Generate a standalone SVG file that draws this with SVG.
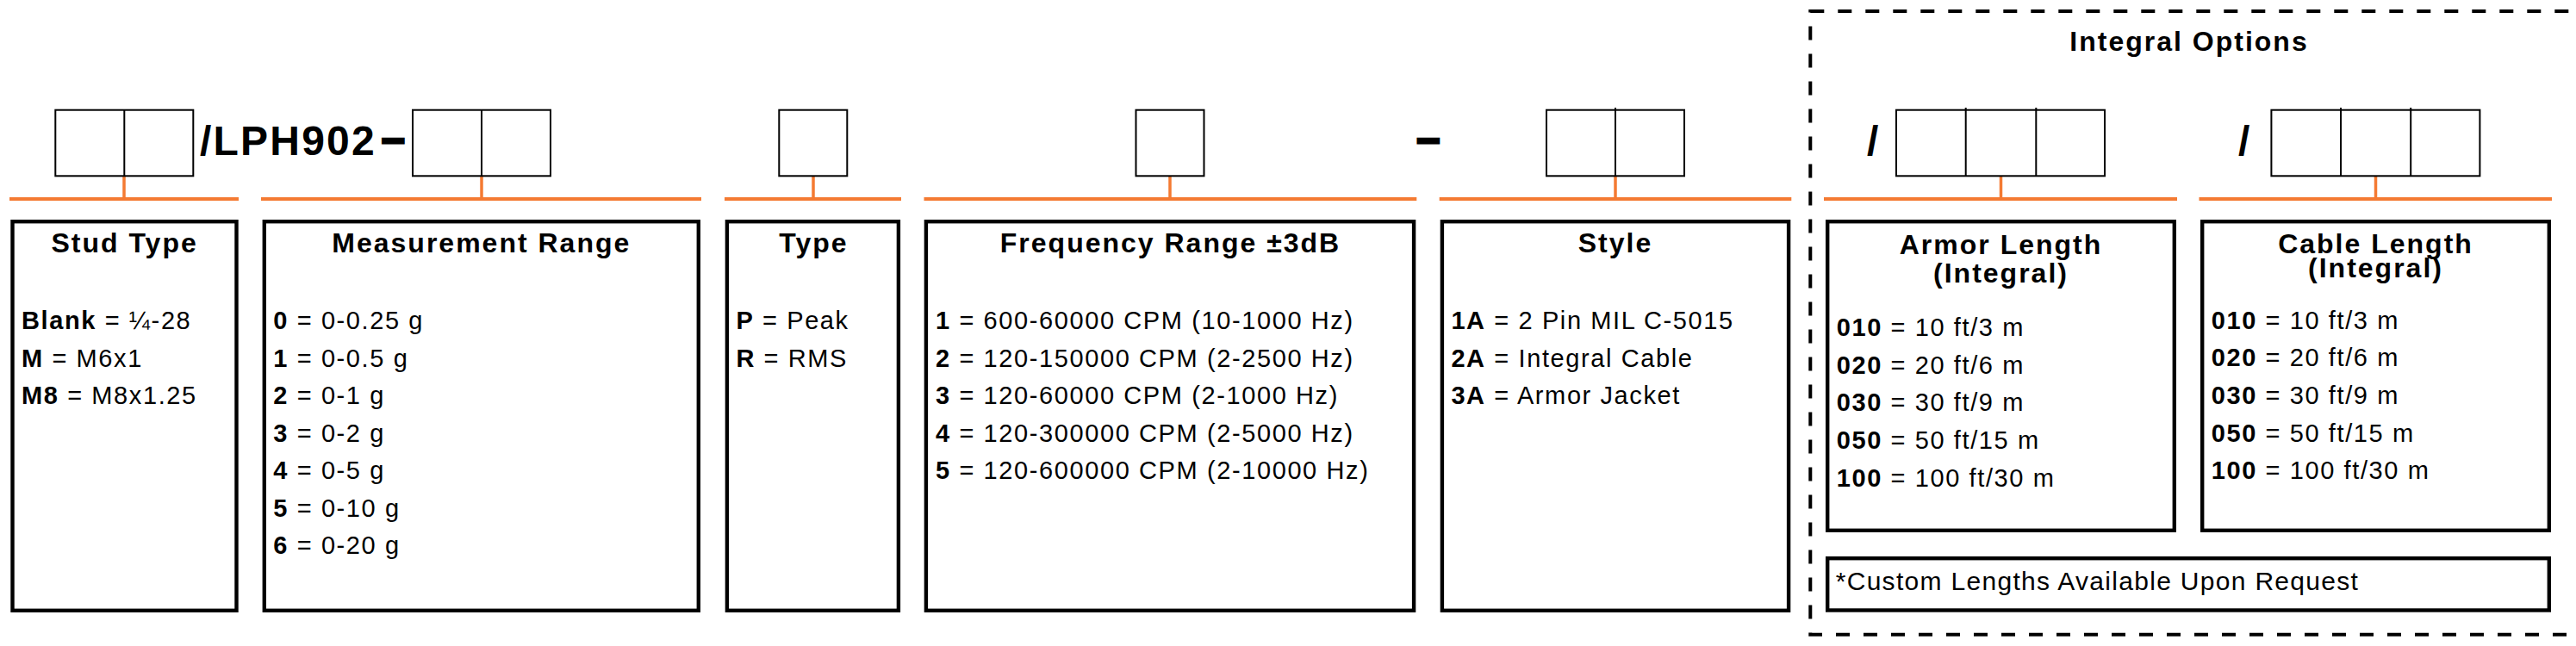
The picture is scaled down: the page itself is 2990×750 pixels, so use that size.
<svg xmlns="http://www.w3.org/2000/svg" width="2990" height="750" viewBox="0 0 2990 750">
<style>
text{font-family:"Liberation Sans",Arial,Helvetica,sans-serif;fill:#000}
.code{font-size:48px;font-weight:bold;letter-spacing:2.2px}
.dash{font-size:48px;font-weight:bold;stroke:#000;stroke-width:3}
.title{font-size:32px;font-weight:bold;letter-spacing:2px;text-anchor:middle}
.body{font-size:29px;letter-spacing:1.6px}
.note{font-size:30px;letter-spacing:1.3px}
.b{font-weight:bold}
.cell{fill:none;stroke:#000;stroke-width:2}
.div{stroke:#000;stroke-width:2}
.box{fill:none;stroke:#000;stroke-width:4.4}
.hl{stroke:#F47A32;stroke-width:4;fill:none}
.vl{stroke:#F47A32;stroke-width:3.5;fill:none}
.dashed{fill:none;stroke:#000;stroke-width:4;stroke-dasharray:16 16}
</style>
<rect width="2990" height="750" fill="#fff"/>

<g id="integral-options-frame">
<rect class="dashed" x="2101.3" y="13" width="2877" height="723.7"/>
<text class="title" x="2541" y="59">Integral Options</text>
</g>

<g id="part-code">
<text class="code" x="232" y="180">/LPH902</text>
<text class="dash" x="443" y="176.5">–</text>
<text class="dash" x="1644.5" y="176.5">–</text>
<text class="code" x="2167" y="180">/</text>
<text class="code" x="2598" y="180">/</text>
</g>

<g id="connectors">
<line class="hl" x1="11" y1="231" x2="277" y2="231"/>
<line class="vl" x1="144" y1="205" x2="144" y2="231"/>
<line class="hl" x1="303" y1="231" x2="814" y2="231"/>
<line class="vl" x1="559" y1="205" x2="559" y2="231"/>
<line class="hl" x1="841" y1="231" x2="1046" y2="231"/>
<line class="vl" x1="944" y1="205" x2="944" y2="231"/>
<line class="hl" x1="1072.5" y1="231" x2="1644.3" y2="231"/>
<line class="vl" x1="1358" y1="205" x2="1358" y2="231"/>
<line class="hl" x1="1670.7" y1="231" x2="2079.3" y2="231"/>
<line class="vl" x1="1875" y1="205" x2="1875" y2="231"/>
<line class="hl" x1="2117" y1="231" x2="2527" y2="231"/>
<line class="vl" x1="2322.5" y1="205" x2="2322.5" y2="231"/>
<line class="hl" x1="2552.5" y1="231" x2="2962" y2="231"/>
<line class="vl" x1="2757.5" y1="205" x2="2757.5" y2="231"/>
</g>

<g id="stud-type">
<rect class="cell" x="64.3" y="127.7" width="160" height="76.6"/>
<line class="div" x1="144.3" y1="127.7" x2="144.3" y2="204.3"/>
<rect class="box" x="14.5" y="257.2" width="260" height="451.6"/>
<text class="title" x="144.6" y="293.3">Stud Type</text>
<text class="body" x="25" y="382"><tspan class="b">Blank</tspan> = ¼-28</text>
<text class="body" x="25" y="425.5"><tspan class="b">M</tspan> = M6x1</text>
<text class="body" x="25" y="469"><tspan class="b">M8</tspan> = M8x1.25</text>
</g>

<g id="measurement-range">
<rect class="cell" x="479" y="127.7" width="160" height="76.6"/>
<line class="div" x1="559" y1="127.7" x2="559" y2="204.3"/>
<rect class="box" x="306.8" y="257.2" width="504" height="451.6"/>
<text class="title" x="558.8" y="293.3">Measurement Range</text>
<text class="body" x="317.3" y="382"><tspan class="b">0</tspan> = 0-0.25 g</text>
<text class="body" x="317.3" y="425.5"><tspan class="b">1</tspan> = 0-0.5 g</text>
<text class="body" x="317.3" y="469"><tspan class="b">2</tspan> = 0-1 g</text>
<text class="body" x="317.3" y="512.5"><tspan class="b">3</tspan> = 0-2 g</text>
<text class="body" x="317.3" y="556"><tspan class="b">4</tspan> = 0-5 g</text>
<text class="body" x="317.3" y="599.5"><tspan class="b">5</tspan> = 0-10 g</text>
<text class="body" x="317.3" y="643"><tspan class="b">6</tspan> = 0-20 g</text>
</g>

<g id="type">
<rect class="cell" x="904.3" y="127.7" width="79" height="76.6"/>
<rect class="box" x="843.9" y="257.2" width="199" height="451.6"/>
<text class="title" x="944.4" y="293.3">Type</text>
<text class="body" x="854.4" y="382"><tspan class="b">P</tspan> = Peak</text>
<text class="body" x="854.4" y="425.5"><tspan class="b">R</tspan> = RMS</text>
</g>

<g id="frequency-range">
<rect class="cell" x="1318.5" y="127.7" width="79" height="76.6"/>
<rect class="box" x="1074.9" y="257.2" width="566.2" height="451.6"/>
<text class="title" x="1358.5" y="293.3">Frequency Range ±3dB</text>
<text class="body" x="1086" y="382"><tspan class="b">1</tspan> = 600-60000 CPM (10-1000 Hz)</text>
<text class="body" x="1086" y="425.5"><tspan class="b">2</tspan> = 120-150000 CPM (2-2500 Hz)</text>
<text class="body" x="1086" y="469"><tspan class="b">3</tspan> = 120-60000 CPM (2-1000 Hz)</text>
<text class="body" x="1086" y="512.5"><tspan class="b">4</tspan> = 120-300000 CPM (2-5000 Hz)</text>
<text class="body" x="1086" y="556"><tspan class="b">5</tspan> = 120-600000 CPM (2-10000 Hz)</text>
</g>

<g id="style">
<rect class="cell" x="1795" y="127.7" width="160" height="76.6"/>
<line class="div" x1="1875" y1="125" x2="1875" y2="204.3"/>
<rect class="box" x="1673.9" y="257.2" width="402.2" height="451.6"/>
<text class="title" x="1875" y="293.3">Style</text>
<text class="body" x="1684.4" y="382"><tspan class="b">1A</tspan> = 2 Pin MIL C-5015</text>
<text class="body" x="1684.4" y="425.5"><tspan class="b">2A</tspan> = Integral Cable</text>
<text class="body" x="1684.4" y="469"><tspan class="b">3A</tspan> = Armor Jacket</text>
</g>

<g id="armor-length">
<rect class="cell" x="2201" y="127.7" width="242" height="76.6"/>
<line class="div" x1="2281.7" y1="125" x2="2281.7" y2="204.3"/>
<line class="div" x1="2363.3" y1="125" x2="2363.3" y2="204.3"/>
<rect class="box" x="2121.2" y="257.2" width="402.6" height="358.6"/>
<text class="title" x="2322.5" y="295">Armor Length</text>
<text class="title" x="2322.5" y="328">(Integral)</text>
<text class="body" x="2131.7" y="390"><tspan class="b">010</tspan> = 10 ft/3 m</text>
<text class="body" x="2131.7" y="433.7"><tspan class="b">020</tspan> = 20 ft/6 m</text>
<text class="body" x="2131.7" y="477.4"><tspan class="b">030</tspan> = 30 ft/9 m</text>
<text class="body" x="2131.7" y="521.1"><tspan class="b">050</tspan> = 50 ft/15 m</text>
<text class="body" x="2131.7" y="564.8"><tspan class="b">100</tspan> = 100 ft/30 m</text>
</g>

<g id="cable-length">
<rect class="cell" x="2636.4" y="127.7" width="242" height="76.6"/>
<line class="div" x1="2717" y1="125" x2="2717" y2="204.3"/>
<line class="div" x1="2798.2" y1="125" x2="2798.2" y2="204.3"/>
<rect class="box" x="2556.2" y="257.2" width="402.6" height="358.6"/>
<text class="title" x="2757.5" y="294">Cable Length</text>
<text class="title" x="2757.5" y="321.5">(Integral)</text>
<text class="body" x="2566.7" y="381.5"><tspan class="b">010</tspan> = 10 ft/3 m</text>
<text class="body" x="2566.7" y="425.2"><tspan class="b">020</tspan> = 20 ft/6 m</text>
<text class="body" x="2566.7" y="468.9"><tspan class="b">030</tspan> = 30 ft/9 m</text>
<text class="body" x="2566.7" y="512.6"><tspan class="b">050</tspan> = 50 ft/15 m</text>
<text class="body" x="2566.7" y="556.3"><tspan class="b">100</tspan> = 100 ft/30 m</text>
</g>

<g id="custom-lengths-note">
<rect class="box" x="2121.2" y="648.2" width="837.6" height="60.3"/>
<text class="note" x="2130.7" y="685">*Custom Lengths Available Upon Request</text>
</g>
</svg>
